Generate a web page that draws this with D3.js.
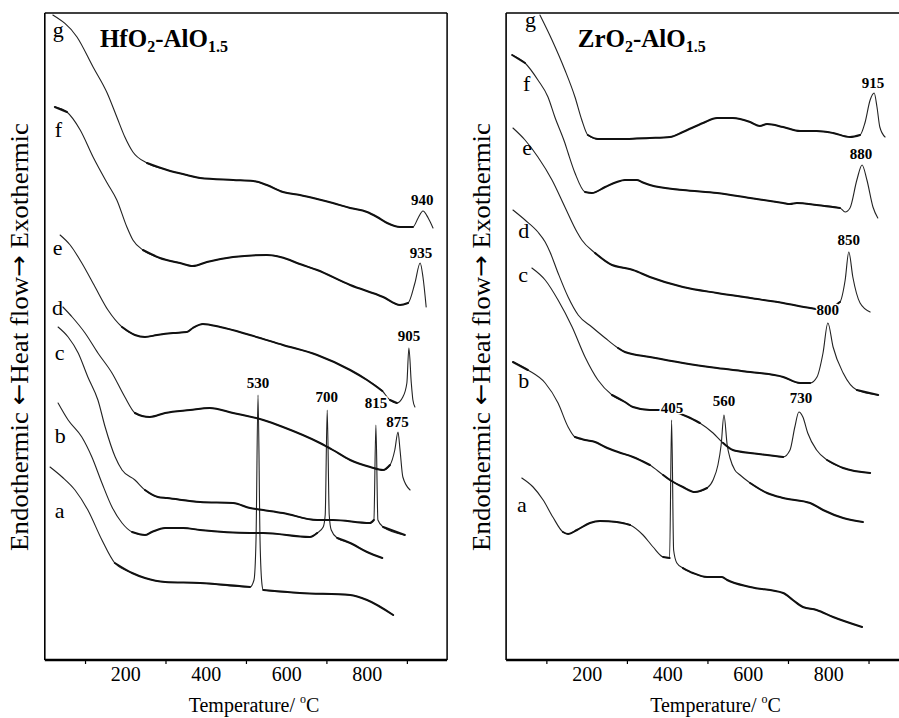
<!DOCTYPE html>
<html><head><meta charset="utf-8">
<script src="https://cdn.jsdelivr.net/npm/d3@7"></script>
<style>
html,body{margin:0;padding:0;background:#fff;}
svg{display:block;}
text{font-family:"Liberation Serif","Times New Roman",serif;fill:#000;}
</style></head>
<body>
<script>
// ---------- DATA (temperature °C, heat flow in arbitrary units) ----------
const tempTicks = [200, 400, 600, 800];
const minorTicks = [100, 300, 500, 700, 900];
const curveNames = ["a","b","c","d","e","f","g"];
const panelTitles = ["HfO2-AlO1.5", "ZrO2-AlO1.5"];
const axisTitle = "Temperature/ ";
const yTitleParts = ["Endothermic ", "\u2190", "Heat flow", "\u2192", " Exothermic"];

// HfO2-AlO1.5 curves
const hfA = [[13,193],[43,183],[75,170],[107,150],[142,120],[174,97],[217,87],[249,82],[299,78],[386,77],[510,73],[520,80],[525,120],[530,265],[535,120],[540,75],[543,70],[634,67],[759,65],[801,60],[866,45]];
const hfB = [[33,257],[58,240],[92,223],[117,203],[142,177],[167,153],[192,137],[217,128],[249,125],[266,128],[299,132],[344,132],[386,130],[510,127],[543,127],[659,123],[677,127],[692,133],[697,145],[702,250],[707,145],[712,130],[727,122],[759,117],[801,108],[839,102]];
const hfC = [[33,333],[58,323],[83,307],[107,283],[132,260],[150,233],[175,203],[192,190],[224,180],[249,170],[281,163],[304,162],[386,158],[468,157],[510,152],[543,150],[592,147],[677,140],[716,140],[808,137],[818,140],[823,235],[828,140],[841,133],[895,125]];
const hfD = [[45,353],[68,343],[100,327],[132,307],[167,287],[199,263],[224,247],[242,244],[261,243],[299,247],[361,250],[410,252],[468,247],[543,240],[592,233],[684,217],[716,210],[759,200],[809,193],[841,190],[858,195],[870,210],[878,228],[883,210],[890,183],[908,170]];
const hfE = [[38,425],[63,415],[92,397],[125,373],[157,350],[192,333],[224,325],[249,323],[279,325],[319,327],[353,328],[368,332],[393,336],[436,333],[510,325],[592,315],[677,305],[759,290],[801,280],[839,269],[858,260],[875,257],[890,263],[900,277],[905,312],[911,277],[915,260],[920,253]];
const hfF = [[25,553],[55,548],[88,530],[120,503],[155,477],[179,460],[204,433],[219,420],[244,410],[286,402],[336,397],[368,394],[403,398],[468,403],[552,405],[609,400],[627,397],[677,390],[759,375],[841,363],[883,355],[903,357],[920,377],[933,397],[940,383],[948,353]];
const hfG = [[20,645],[80,623],[120,593],[155,567],[179,543],[199,523],[219,508],[254,497],[304,490],[353,485],[386,482],[468,480],[518,479],[552,475],[592,468],[634,465],[677,461],[716,457],[759,452],[801,448],[826,443],[851,437],[883,433],[915,433],[928,442],[940,449],[953,442],[965,432]];

// ZrO2-AlO1.5 curves
const zrA = [[39,182],[67,173],[92,160],[116,143],[141,128],[154,126],[176,130],[208,137],[233,139],[275,138],[308,135],[340,125],[365,113],[390,103],[406,102],[411,240],[416,110],[424,97],[439,92],[464,87],[499,83],[524,83],[536,83],[549,80],[606,73],[688,67],[712,60],[737,53],[771,50],[812,43],[884,33]];
const zrB = [[17,298],[54,290],[97,277],[129,257],[154,233],[171,223],[196,220],[221,218],[246,213],[278,208],[315,203],[357,195],[390,185],[407,180],[439,173],[469,168],[499,172],[514,180],[526,195],[534,215],[541,245],[549,215],[556,202],[568,190],[581,185],[606,177],[648,167],[688,162],[755,157],[787,150],[837,142],[886,138]];
const zrC = [[64,392],[97,380],[129,360],[164,333],[196,303],[228,280],[263,265],[295,258],[315,253],[357,250],[390,250],[452,243],[481,237],[514,227],[539,217],[563,210],[606,207],[648,205],[688,203],[705,210],[717,233],[727,248],[737,243],[749,227],[771,210],[797,200],[837,192],[904,187]];
const zrD = [[17,450],[47,440],[79,428],[97,418],[109,408],[129,387],[154,363],[179,345],[213,333],[246,322],[278,312],[295,308],[357,303],[439,297],[524,292],[606,288],[688,283],[730,277],[755,277],[772,283],[787,307],[799,337],[812,313],[837,287],[871,270],[924,265]];
const zrE = [[17,532],[47,520],[79,503],[114,480],[146,453],[176,428],[188,420],[221,407],[263,395],[295,392],[315,390],[357,383],[439,373],[524,367],[606,362],[688,357],[755,352],[792,350],[829,358],[842,380],[851,408],[861,383],[879,357],[904,348]];
const zrF = [[15,605],[47,597],[79,580],[104,563],[121,543],[146,517],[154,507],[171,487],[196,468],[213,467],[246,473],[275,478],[295,480],[325,480],[337,478],[357,475],[439,470],[524,467],[606,462],[688,457],[705,456],[722,457],[771,455],[829,452],[842,448],[854,452],[871,480],[884,495],[896,480],[911,453],[923,442]];
const zrG = [[84,645],[114,620],[146,590],[171,563],[188,540],[203,525],[228,521],[275,521],[357,522],[407,523],[439,528],[489,537],[524,542],[563,542],[606,538],[630,534],[648,536],[688,533],[730,529],[771,529],[812,527],[854,523],[879,525],[891,537],[904,560],[914,567],[921,553],[928,533],[941,523]];

// curve-letter anchors [temperature, heat flow]
const hfLetterAt = [[25,142],[25,217],[25,300],[18,345],[20,405],[25,523],[20,623]];
const zrLetterAt = [[27,148],[30,272],[30,378],[30,422],[40,505],[42,569],[47,633]];
// peak labels [text, temperature, heat flow]
const hfPeaks = [["530",530,272],["700",701,258],["815",823,252],["875",877,233],["905",905,319],["935",935,402],["940",938,455]];
const zrPeaks = [["405",412,247],["560",541,254],["730",732,257],["800",799,345],["850",851,415],["880",881,501],["915",911,572]];

const hfSeries = [hfA,hfB,hfC,hfD,hfE,hfF,hfG];
const zrSeries = [zrA,zrB,zrC,zrD,zrE,zrF,zrG];

// ---------- DRAWING ----------
const W = 899, H = 718;
const svg = d3.select("body").append("svg").attr("width", W).attr("height", H);

const y = d3.scaleLinear().domain([0, 647]).range([660, 13]);
const xL = d3.scaleLinear().domain([0, 1000]).range([44.8, 447.1]);
const xR = d3.scaleLinear().domain([0, 1000]).range([506.1, 908.8]);

// split a series into runs of gentle slope (drawn bolder, as in the scanned trace)
function flatRuns(x, s) {
  const runs = [];
  let cur = null;
  for (let i = 1; i < s.length; i++) {
    const dx = x(s[i][0]) - x(s[i-1][0]);
    const dy = Math.abs(y(s[i][1]) - y(s[i-1][1]));
    const flat = dy / Math.max(dx, 0.01) < 0.75;
    if (flat) {
      if (!cur) { cur = [s[i-1]]; runs.push(cur); }
      cur.push(s[i]);
    } else cur = null;
  }
  return runs;
}

function panel(x, series, letterAt, peaks, title, titleT, yLabelX, closedRight) {
  const g = svg.append("g");
  const x0 = x(0), x1 = closedRight ? x(1000) : W + 2;
  // frame
  g.append("line").attr("x1", x0).attr("x2", x1).attr("y1", y(647)).attr("y2", y(647)).attr("stroke", "#000").attr("stroke-width", 1.5);
  g.append("line").attr("x1", x0).attr("x2", x0).attr("y1", y(647)).attr("y2", y(0)).attr("stroke", "#000").attr("stroke-width", 1.6);
  if (closedRight) g.append("line").attr("x1", x1).attr("x2", x1).attr("y1", y(647)).attr("y2", y(0)).attr("stroke", "#000").attr("stroke-width", 1.5);

  // axes
  const ax = g.append("g").attr("transform", `translate(0,${y(0)})`)
    .call(d3.axisBottom(x).tickValues(tempTicks).tickSize(0).tickPadding(7));
  ax.select(".domain").remove();
  ax.selectAll("text").attr("font-family", '"Liberation Serif","Times New Roman",serif').attr("font-size", 20).attr("fill", "#000");
  const mx = g.append("g").attr("transform", `translate(0,${y(0)})`)
    .call(d3.axisBottom(x).tickValues(minorTicks).tickSize(4).tickFormat(""));
  mx.select(".domain").remove();
  mx.selectAll("line").attr("stroke", "#000").attr("stroke-width", 1.2);
  g.append("line").attr("x1", x0).attr("x2", x1).attr("y1", y(0)).attr("y2", y(0)).attr("stroke", "#000").attr("stroke-width", 2.6);

  // curves: thin base trace + bolder overlay where the trace is gentle
  const line = d3.line().x(d => x(d[0])).y(d => y(d[1])).curve(d3.curveMonotoneX);
  g.selectAll("path.curve").data(series).enter().append("path")
    .attr("class", "curve").attr("d", line)
    .attr("fill", "none").attr("stroke", "#222").attr("stroke-width", 1.1)
    .attr("stroke-linejoin", "round").attr("stroke-linecap", "round");
  const runs = series.flatMap(s => flatRuns(x, s));
  g.selectAll("path.bold").data(runs).enter().append("path")
    .attr("class", "bold").attr("d", line)
    .attr("fill", "none").attr("stroke", "#111").attr("stroke-width", 2.0)
    .attr("stroke-linejoin", "round").attr("stroke-linecap", "round");

  // letters
  g.selectAll("text.letter").data(curveNames).enter().append("text")
    .attr("class", "letter")
    .attr("x", (d, i) => x(letterAt[i][0])).attr("y", (d, i) => y(letterAt[i][1]))
    .attr("font-size", 22).text(d => d);

  // peak labels
  g.selectAll("text.peak").data(peaks).enter().append("text")
    .attr("class", "peak")
    .attr("x", d => x(d[1])).attr("y", d => y(d[2]))
    .attr("text-anchor", "middle").attr("font-size", 15).attr("font-weight", "bold")
    .attr("stroke", "#fff").attr("stroke-width", 3).attr("paint-order", "stroke")
    .text(d => d[0]);

  // title with subscripts
  const m = title.match(/^(\w+)O2-AlO1\.5$/);
  const t = g.append("text").attr("x", x(titleT)).attr("y", 47)
    .attr("font-size", 25).attr("font-weight", "bold");
  t.append("tspan").text(m[1] + "O");
  t.append("tspan").attr("font-size", 16).attr("dy", 5).text("2");
  t.append("tspan").attr("dy", -5).text("-AlO");
  t.append("tspan").attr("font-size", 16).attr("dy", 5).text("1.5");

  // x-axis title
  const xt = g.append("text").attr("x", x(520)).attr("y", 712)
    .attr("text-anchor", "middle").attr("font-size", 20);
  xt.append("tspan").text(axisTitle);
  xt.append("tspan").attr("font-size", 12).attr("dy", -9).text("o");
  xt.append("tspan").attr("dy", 9).text("C");

  // y-axis title
  const yt = svg.append("text")
    .attr("transform", `translate(${yLabelX},337) rotate(-90)`)
    .attr("text-anchor", "middle").attr("dominant-baseline", "central")
    .attr("font-size", 25).attr("textLength", 428).attr("lengthAdjust", "spacingAndGlyphs");
  yTitleParts.forEach(p => {
    const ts = yt.append("tspan").text(p);
    if (p.length === 1) ts.attr("font-family", '"DejaVu Sans",sans-serif').attr("font-size", 24);
  });
}

panel(xL, hfSeries, hfLetterAt, hfPeaks, panelTitles[0], 137, 19, true);
panel(xR, zrSeries, zrLetterAt, zrPeaks, panelTitles[1], 178, 481, false);
</script>
</body></html>
